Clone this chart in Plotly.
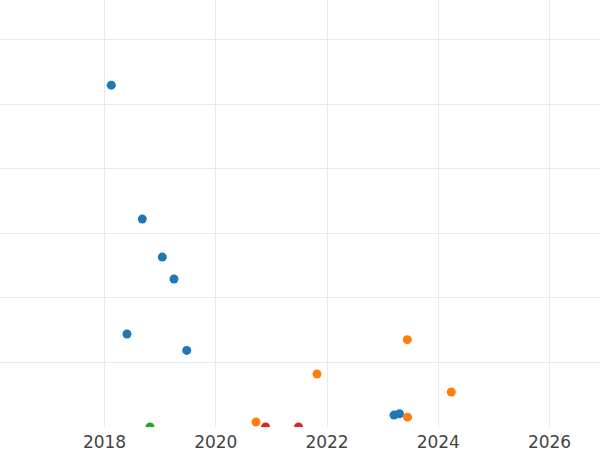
import plotly.graph_objects as go

# Series data (decimal year, value)
blue_x = [2018.122, 2018.679, 2019.039, 2019.249, 2018.404, 2019.478, 2023.204, 2023.303]
blue_y = [5.296, 3.221, 2.633, 2.293, 1.441, 1.187, 0.184, 0.205]

orange_x = [2023.443, 2021.820, 2024.234, 2020.723, 2023.447]
orange_y = [1.353, 0.822, 0.543, 0.076, 0.153]

green_x = [2018.818]
green_y = [0.0]

red_x = [2020.894, 2021.487]
red_y = [0.0, 0.0]

x_ticks = [2018, 2020, 2022, 2024, 2026]
x_tick_labels = ["2018", "2020", "2022", "2024", "2026"]

fig = go.Figure()
for name, xs, ys, col in [
    ("A", blue_x, blue_y, "#1f77b4"),
    ("B", orange_x, orange_y, "#ff7f0e"),
    ("C", green_x, green_y, "#2ca02c"),
    ("D", red_x, red_y, "#d62728"),
]:
    fig.add_trace(go.Scatter(x=xs, y=ys, mode="markers", name=name,
                             marker=dict(color=col, size=9, line=dict(width=0))))

fig.update_layout(
    width=600, height=450,
    margin=dict(l=0, r=0, t=0, b=23),
    paper_bgcolor="white", plot_bgcolor="white",
    showlegend=False,
    font=dict(family="DejaVu Sans", size=17, color="#444444"),
)
fig.update_xaxes(range=[2016.121, 2026.907], tickvals=x_ticks, ticktext=x_tick_labels,
                 showgrid=True, gridcolor="#e9e9e9", gridwidth=1, zeroline=False,
                 showline=False, ticks="", ticklabelstandoff=3, automargin=False)
fig.update_yaxes(range=[0, 6.616], dtick=1, showticklabels=False,
                 showgrid=True, gridcolor="#e9e9e9", gridwidth=1, zeroline=False,
                 showline=False, ticks="", automargin=False)

fig.write_html("out.html", config={"displayModeBar": False},
               post_script="document.body.style.margin='0';document.body.style.overflow='hidden';")
